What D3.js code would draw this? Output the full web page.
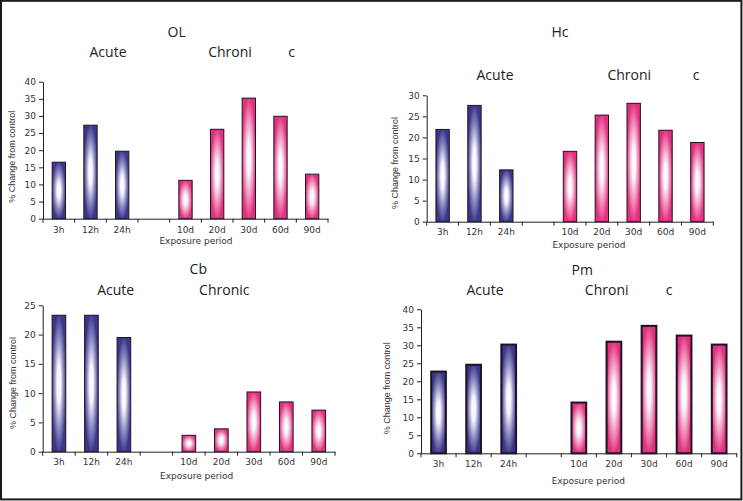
<!DOCTYPE html>
<html><head><meta charset="utf-8">
<script src="https://cdn.jsdelivr.net/npm/d3@7/dist/d3.min.js"></script>
<style>body{margin:0;background:#fff}svg{display:block}</style>
</head><body>
<svg id="c" width="743" height="501"></svg>
<script>
// ---- data ----
const categories = ["3h","12h","24h","","10d","20d","30d","60d","90d"];
const panelNames = ["OL","Hc","Cb","Pm"];
const olValues = [16.5,27.3,19.7,null,11.2,26.1,35.2,29.9,13.0];
const hcValues = [21.9,27.6,12.3,null,16.7,25.3,28.1,21.7,18.8];
const cbValues = [23.3,23.3,19.5,null,2.8,3.9,10.2,8.5,7.1];
const pmValues = [22.7,24.6,30.2,null,14.1,31.0,35.4,32.7,30.2];
const yMaxes = [40,30,25,40];
const yTickStep = 5;
const yLabel = "% Change from control";
const xLabel = "Exposure period";
const groupLabels = [["Acute","Chroni","c"],["Acute","Chroni","c"],["Acute","Chronic",""],["Acute","Chroni","c"]];

// ---- layout (not data) ----
const layouts = [
  {x0:43, x1:328, y0:218.7, y1:81.7, title:[176.7,31.7], acute:[108,52.3], chron:[230,52.3], c:[291.7,52.3], ylab:[11.7,156.7], tickY:229.5, xlabY:240.7, xlabX:196, stroke:1},
  {x0:426.7, x1:713.3, y0:221.7, y1:95.3, title:[560,31.7], acute:[495,75], chron:[629.3,75], c:[696,75], ylab:[395,163], tickY:232, xlabY:245.3, xlabX:589, stroke:1},
  {x0:42.7, x1:335, y0:451.7, y1:305.3, title:[198.3,269.3], acute:[115.7,290], chron:[224.3,290], c:[0,290], ylab:[13.3,383], tickY:462, xlabY:475.7, xlabX:196.7, stroke:1},
  {x0:421, x1:736.7, y0:453.3, y1:309.3, title:[582.3,270], acute:[485,290], chron:[606.7,290], c:[669,290], ylab:[386.7,388.3], tickY:463.5, xlabY:480.7, xlabX:588.3, stroke:2}
];
const allValues = [olValues,hcValues,cbValues,pmValues];

const svg = d3.select("#c");
const defs = svg.append("defs");
function grad(id, edge, mid){
  const g = defs.append("radialGradient").attr("id",id)
    .attr("cx","50%").attr("cy","50%").attr("r","56%");
  g.append("stop").attr("offset","0").attr("stop-color","#ffffff");
  g.append("stop").attr("offset","0.25").attr("stop-color","#f6f4fb");
  g.append("stop").attr("offset","0.6").attr("stop-color",mid);
  g.append("stop").attr("offset","0.92").attr("stop-color",edge);
  g.append("stop").attr("offset","1").attr("stop-color",edge);
}
grad("gA","#3b3788","#8c88c0");
grad("gC","#e0307e","#f08cb6");

// frame
svg.append("rect").attr("x",1).attr("y",0.8).attr("width",740.4).attr("height",498.6)
  .attr("fill","none").attr("stroke","#1a1a1a").attr("stroke-width",2);

const titleFont = "'Open Sans', 'Noto Sans', sans-serif";
const tickFont = "'DejaVu Sans', Verdana, sans-serif";

layouts.forEach((L, p) => {
  const vals = allValues[p];
  const g = svg.append("g");
  const x = d3.scaleBand().domain(categories).range([L.x0, L.x1]).padding(0);
  const y = d3.scaleLinear().domain([0, yMaxes[p]]).range([L.y0, L.y1]);
  const bw = x.step()*0.42;

  // bars
  g.selectAll("rect.bar").data(categories.map((c,i)=>({c,i,v:vals[i]})).filter(d=>d.v!=null))
    .enter().append("rect").attr("class","bar")
    .attr("x", d => x(d.c) + (x.step()-bw)/2)
    .attr("width", bw)
    .attr("y", d => y(d.v))
    .attr("height", d => y(0)-y(d.v))
    .attr("fill", d => d.i < 3 ? "url(#gA)" : "url(#gC)")
    .attr("stroke", "#1e1226").attr("stroke-width", L.stroke);

  // y axis
  const ticks = d3.range(0, yMaxes[p]+0.001, yTickStep);
  const ya = g.append("g").attr("transform",`translate(${L.x0},0)`)
    .call(d3.axisLeft(y).tickValues(ticks).tickSize(4).tickSizeOuter(0).tickPadding(3));
  ya.select(".domain").attr("stroke","#222");
  ya.selectAll(".tick line").attr("stroke","#222");
  ya.selectAll(".tick text").attr("font-family",tickFont).attr("font-size",9).attr("fill","#333");

  // x axis
  const xa = g.append("g").attr("transform",`translate(0,${L.y0})`)
    .call(d3.axisBottom(x).tickSize(0).tickSizeOuter(0).tickPadding(0));
  xa.select(".domain").attr("stroke","#222");
  xa.selectAll(".tick text").attr("font-family",tickFont).attr("font-size",9).attr("fill","#333")
    .attr("y", L.tickY - L.y0).attr("dy","0.35em");
  xa.selectAll("line.bnd").data(d3.range(categories.length+1)).enter().append("line").attr("class","bnd")
    .attr("x1", i => L.x0 + i*x.step()).attr("x2", i => L.x0 + i*x.step())
    .attr("y1",0).attr("y2",4).attr("stroke","#222");

  // labels
  g.append("text").attr("x",L.title[0]).attr("y",L.title[1]).attr("dy","0.35em")
    .attr("text-anchor","middle").attr("font-family",titleFont).attr("font-size",14).attr("fill","#222").text(panelNames[p]);
  const gl = groupLabels[p];
  g.append("text").attr("x",L.acute[0]).attr("y",L.acute[1]).attr("dy","0.35em")
    .attr("text-anchor","middle").attr("font-family",titleFont).attr("font-size",14).attr("fill","#222").text(gl[0]);
  g.append("text").attr("x",L.chron[0]).attr("y",L.chron[1]).attr("dy","0.35em")
    .attr("text-anchor","middle").attr("font-family",titleFont).attr("font-size",14).attr("fill","#222").text(gl[1]);
  if (gl[2]) g.append("text").attr("x",L.c[0]).attr("y",L.c[1]).attr("dy","0.35em")
    .attr("text-anchor","middle").attr("font-family",titleFont).attr("font-size",14).attr("fill","#222").text(gl[2]);
  g.append("text").attr("transform",`translate(${L.ylab[0]},${L.ylab[1]}) rotate(-90)`).attr("dy","0.35em")
    .attr("text-anchor","middle").attr("font-family","'Liberation Sans Narrow','Liberation Sans',Arial,sans-serif")
    .attr("font-size",9).attr("fill","#333").text(yLabel);
  g.append("text").attr("x",L.xlabX).attr("y",L.xlabY).attr("dy","0.35em")
    .attr("text-anchor","middle").attr("font-family",tickFont).attr("font-size",9).attr("fill","#333").text(xLabel);
});
</script>
</body></html>
